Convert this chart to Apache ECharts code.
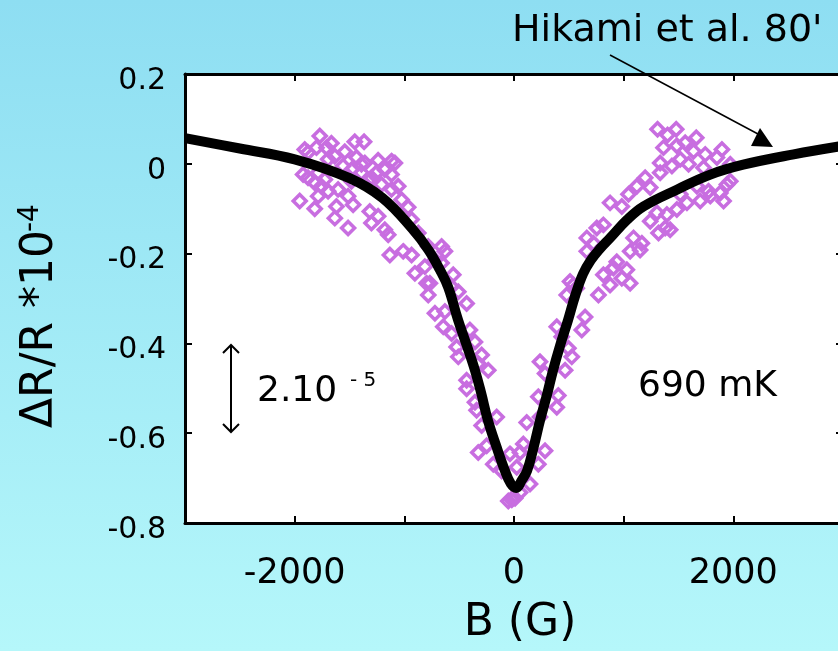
<!DOCTYPE html>
<html>
<head>
<meta charset="utf-8">
<script src="https://cdn.jsdelivr.net/npm/echarts@6/dist/echarts.min.js"></script>
<style>
html,body{margin:0;padding:0;}
#chart{width:838px;height:651px;}
</style>
</head>
<body>
<div id="chart"></div>
<script>
// ---- data (B in gauss, ΔR/R in units of 1e-4) ----
var xTicks = [-3000, 3000, 1000];
var yTicks = [-0.8, 0.2, 0.2];
var xTickLabels = ['-2000', '0', '2000'];
var yTickLabels = ['-0.8', '-0.6', '-0.4', '-0.2', '0', '0.2'];

// theory curve (Hikami et al.)
var curveB = [-3000,-2500,-2000,-1500,-1200,-920,-780,-676,-600,-510,-430,-356,-300,-237,-160,-82,-30,20,70,119,180,237,300,356,420,493,560,630,700,780,877,1030,1180,1490,1790,2090,2550,3000];
var curveV = [0.057,0.034,0.010,-0.032,-0.076,-0.147,-0.192,-0.236,-0.275,-0.348,-0.405,-0.460,-0.510,-0.572,-0.630,-0.684,-0.712,-0.722,-0.705,-0.684,-0.630,-0.572,-0.515,-0.460,-0.405,-0.348,-0.292,-0.245,-0.215,-0.190,-0.165,-0.125,-0.095,-0.057,-0.024,-0.002,0.021,0.040];

// measured points (690 mK)
var measB = [
-1771,-1452,-1367,-1665,-1710,-1801,-1908,-1878,-1543,-1634,-1695,-1436,-1360,-1239,-1117,-1086,-1178,-1254,-1117,-1923,
-1878,-1817,-1756,-1695,-1786,-1604,-1513,-1467,-1954,-1817,-1619,-1634,-1513,-1315,-1300,-1239,-1178,-1147,-1117,-1025,
-965,-1391,-1330,-1132,-1010,-934,-904,-813,-767,-660,-630,-660,-1513,-1482,-1559,-1482,-1391,-1300,-1208,-1056,
-1786,-1725,-934,-873,-782,-721,-569,
1309,1400,1479,1662,1363,1485,1561,1637,1744,1896,1850,1516,1333,1440,1592,1728,1972,1333,1196,1120,
1242,1044,876,983,815,755,664,724,664,1942,1881,1790,1911,1698,1577,1485,1394,1516,1303,1242,
1379,1424,1318,1090,1166,1059,1150,937,1029,983,1059,876,770,815,572,511,907,1972,1774,1668,
-797,-782,-721,-630,-645,-569,-508,-432,-523,-508,-356,-295,-235,-432,-432,-356,-341,-158,-295,-249,
-326,-189,-112,-37,25,-52,-6,55,146,-402,-554,-326,
116,85,55,222,283,222,404,237,283,466,390,435,527,481,542,618,648,237,390,496,-20,10
];
var measV = [
0.062,0.049,0.049,0.046,0.036,0.036,0.032,0.025,0.027,0.017,0.010,0.014,0.002,0.008,0.006,0.002,-0.013,-0.020,-0.024,-0.024,
-0.031,-0.042,-0.050,-0.061,-0.072,-0.057,-0.072,-0.091,-0.083,-0.100,-0.095,-0.121,-0.143,-0.106,-0.132,-0.117,-0.147,-0.158,-0.057,-0.080,
-0.097,-0.020,-0.039,-0.203,-0.195,-0.203,-0.244,-0.229,-0.266,-0.184,-0.195,-0.221,-0.028,-0.039,-0.005,-0.013,-0.001,-0.031,-0.046,-0.050,
-0.020,-0.035,-0.124,-0.154,-0.184,-0.214,-0.274,
0.077,0.064,0.077,0.058,0.036,0.040,0.047,0.028,0.021,0.032,0.014,0.010,0.002,-0.005,-0.001,-0.009,-0.001,-0.020,-0.031,-0.050,
-0.053,-0.068,-0.087,-0.095,-0.136,-0.143,-0.165,-0.177,-0.195,-0.046,-0.065,-0.072,-0.083,-0.083,-0.087,-0.102,-0.113,-0.068,-0.109,-0.128,
-0.143,-0.147,-0.154,-0.165,-0.177,-0.195,-0.192,-0.218,-0.236,-0.255,-0.266,-0.270,-0.292,-0.247,-0.277,-0.262,-0.232,-0.039,-0.061,-0.050,
-0.266,-0.292,-0.333,-0.329,-0.363,-0.378,-0.285,-0.311,-0.408,-0.430,-0.397,-0.426,-0.460,-0.482,-0.501,-0.531,-0.549,-0.564,-0.583,-0.628,
-0.643,-0.669,-0.684,-0.646,-0.676,-0.751,-0.743,-0.732,-0.713,-0.370,-0.247,-0.445,
-0.576,-0.624,-0.643,-0.669,-0.639,-0.519,-0.516,-0.441,-0.467,-0.460,-0.363,-0.385,-0.430,-0.292,-0.270,-0.370,-0.341,-0.564,-0.542,-0.411,-0.748,-0.745
];

var FONT = 'DejaVu Sans';
var curveData = curveB.map(function (b, i) { return [b, curveV[i]]; });
var measData = measB.map(function (b, i) { return [b, measV[i]]; });

var chart = echarts.init(document.getElementById('chart'), null, {renderer: 'canvas'});

var axisLineStyle = {color: '#000', width: 3};
var tickStyle = {color: '#000', width: 2};

function xLabel(v) {
  var s = String(Math.round(v));
  return xTickLabels.indexOf(s) >= 0 ? s : '';
}
function yLabel(v) {
  var r = Math.round(v * 10) / 10;
  var s = r === 0 ? '0' : r.toFixed(1);
  return yTickLabels.indexOf(s) >= 0 ? s : '';
}

var option = {
  animation: false,
  backgroundColor: {
    type: 'linear', x: 0, y: 0, x2: 0, y2: 1,
    colorStops: [{offset: 0, color: '#8edef2'}, {offset: 1, color: '#b5f7fa'}]
  },
  grid: {
    left: 185, top: 74, width: 658, height: 449,
    outerBoundsMode: 'none', containLabel: false,
    show: true, backgroundColor: '#ffffff', borderWidth: 0
  },
  xAxis: [{
    type: 'value', min: xTicks[0], max: xTicks[1], interval: xTicks[2], position: 'bottom',
    axisLine: {show: true, onZero: false, lineStyle: axisLineStyle},
    axisTick: {show: true, inside: true, length: 7, lineStyle: tickStyle},
    axisLabel: {formatter: xLabel, fontSize: 35, fontFamily: FONT, color: '#000', margin: 33},
    splitLine: {show: false}
  }, {
    type: 'value', min: xTicks[0], max: xTicks[1], interval: xTicks[2], position: 'top',
    axisLine: {show: true, onZero: false, lineStyle: axisLineStyle},
    axisTick: {show: true, inside: true, length: 7, lineStyle: tickStyle},
    axisLabel: {show: false},
    splitLine: {show: false}
  }],
  yAxis: [{
    type: 'value', min: yTicks[0], max: yTicks[1], interval: yTicks[2], position: 'left',
    axisLine: {show: true, onZero: false, lineStyle: axisLineStyle},
    axisTick: {show: true, inside: true, length: 7, lineStyle: tickStyle},
    axisLabel: {formatter: yLabel, fontSize: 30, fontFamily: FONT, color: '#000', margin: 19,
                verticalAlign: 'top', lineHeight: 14},
    splitLine: {show: false}
  }, {
    type: 'value', min: yTicks[0], max: yTicks[1], interval: yTicks[2], position: 'right',
    axisLine: {show: true, onZero: false, lineStyle: axisLineStyle},
    axisTick: {show: true, inside: true, length: 7, lineStyle: tickStyle},
    axisLabel: {show: false},
    splitLine: {show: false}
  }],
  series: [{
    name: '690 mK', type: 'scatter', xAxisIndex: 0, yAxisIndex: 0,
    data: measData, symbol: 'diamond', symbolSize: 13,
    itemStyle: {color: 'rgba(255,255,255,0)', borderColor: '#c86ee0', borderWidth: 3.5, opacity: 1},
    z: 2
  }, {
    name: 'Hikami et al.', type: 'line', xAxisIndex: 0, yAxisIndex: 0,
    data: curveData, showSymbol: false, smooth: 0.4,
    lineStyle: {color: '#000', width: 10, cap: 'butt', join: 'round'},
    z: 3
  }],
  graphic: [
    {type: 'text', left: 512, top: 12, z: 10,
     style: {text: "Hikami et al. 80'", font: '38px "DejaVu Sans"', fill: '#000'}},
    {type: 'line', z: 10, shape: {x1: 610, y1: 55, x2: 758, y2: 134}, style: {stroke: '#000', lineWidth: 1.5}},
    {type: 'polygon', z: 10, shape: {points: [[760, 128], [751, 146], [773, 147]]}, style: {fill: '#000'}},
    {type: 'line', z: 10, shape: {x1: 231, y1: 345, x2: 231, y2: 432}, style: {stroke: '#000', lineWidth: 2}},
    {type: 'polyline', z: 10, shape: {points: [[223, 353], [231, 345], [239, 353]]}, style: {stroke: '#000', lineWidth: 2, fill: null}},
    {type: 'polyline', z: 10, shape: {points: [[223, 424], [231, 432], [239, 424]]}, style: {stroke: '#000', lineWidth: 2, fill: null}},
    {type: 'text', z: 10, x: 257, y: 392,
     style: {text: '2.10', font: '36px "DejaVu Sans"', fill: '#000', textVerticalAlign: 'middle'}},
    {type: 'text', z: 10, x: 350, y: 381,
     style: {text: '- 5', font: '20px "DejaVu Sans"', fill: '#000', textVerticalAlign: 'middle'}},
    {type: 'text', z: 10, x: 638, y: 387,
     style: {text: '690 mK', font: '36px "DejaVu Sans"', fill: '#000', textVerticalAlign: 'middle'}},
    {type: 'text', z: 10, x: 520, y: 624,
     style: {text: 'B (G)', font: '44px "DejaVu Sans"', fill: '#000', textAlign: 'center', textVerticalAlign: 'middle'}},
    {type: 'group', x: 41, y: 428, rotation: Math.PI / 2, z: 10, children: [
      {type: 'text', x: 0, y: 0,
       style: {text: 'ΔR/R *10', font: '44px "DejaVu Sans"', fill: '#000', textVerticalAlign: 'middle'}},
      {type: 'text', x: 196, y: -10,
       style: {text: '-4', font: '28px "DejaVu Sans"', fill: '#000', textVerticalAlign: 'middle'}}
    ]}
  ]
};
chart.setOption(option);
</script>
</body>
</html>
